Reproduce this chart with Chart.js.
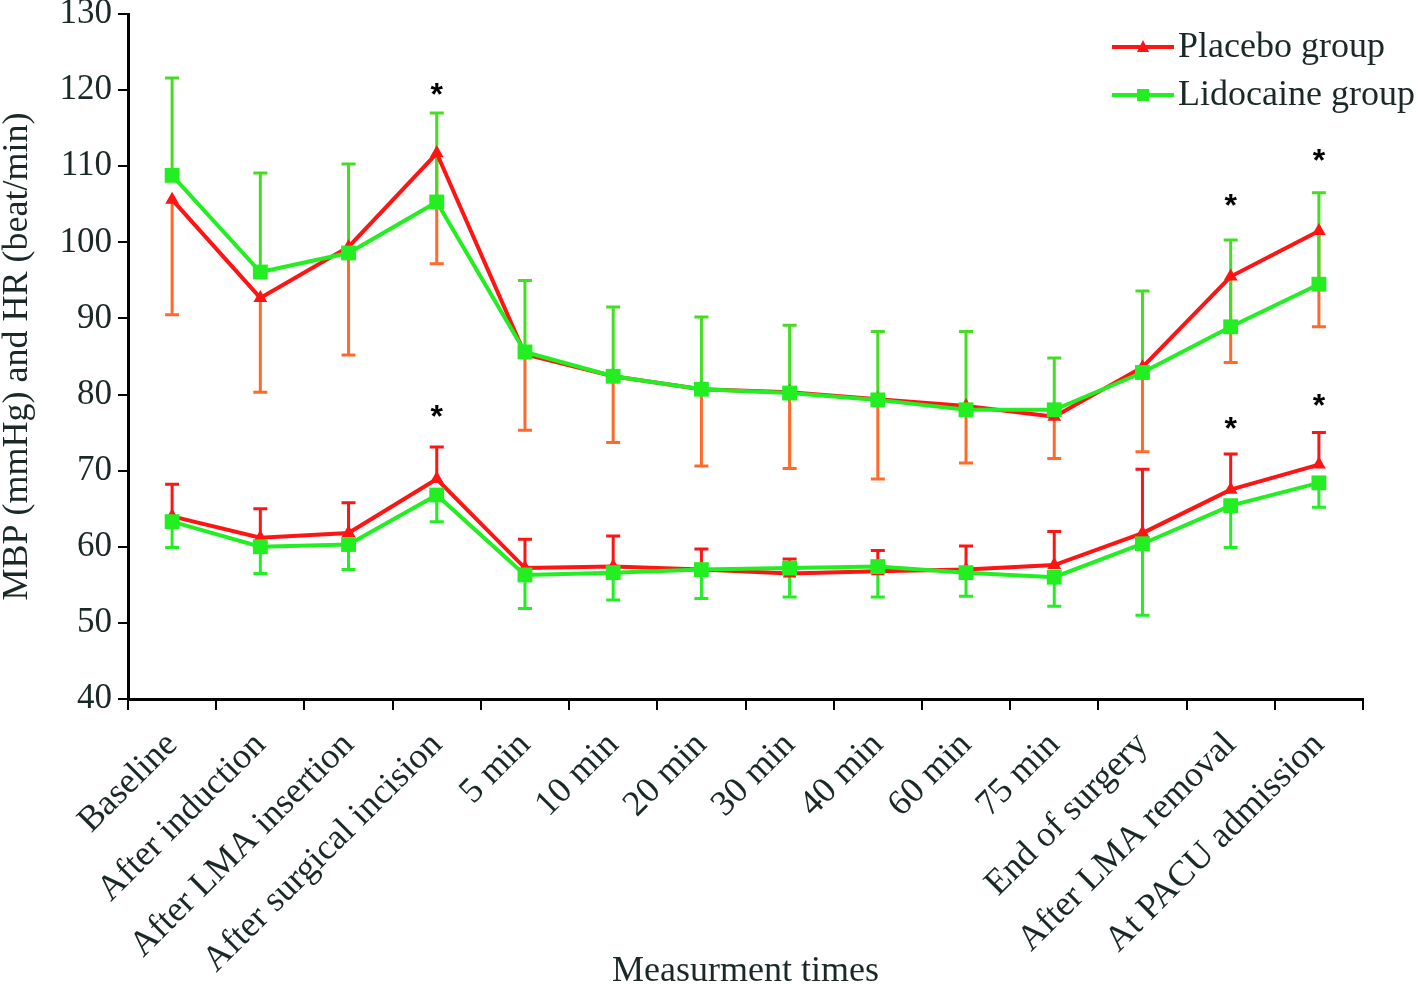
<!DOCTYPE html>
<html>
<head>
<meta charset="utf-8">
<script src="https://cdn.jsdelivr.net/npm/chart.js@4.4.1/dist/chart.umd.min.js"></script>
<style>
  html, body { margin: 0; padding: 0; background: #ffffff; }
  #wrap { width: 1418px; height: 990px; }
</style>
</head>
<body>
<div id="wrap"><canvas id="c" width="1418" height="990"></canvas></div>
<script>
// ---- Data ----
const categories = ['Baseline', 'After induction', 'After LMA insertion', 'After surgical incision',
  '5 min', '10 min', '20 min', '30 min', '40 min', '60 min', '75 min',
  'End of surgery', 'After LMA removal', 'At PACU admission'];

const yTicks = [40, 50, 60, 70, 80, 90, 100, 110, 120, 130];

// Upper curves (MBP)
const placeboMBP = [105.6, 92.7, 99.4, 111.7, 85.3, 82.4, 80.7, 80.3, 79.4, 78.5, 77.1, 83.6, 95.5, 101.5];
const lidocaineMBP = [108.8, 96.1, 98.6, 105.3, 85.6, 82.4, 80.7, 80.2, 79.3, 78.0, 78.0, 82.9, 88.9, 94.5];
const placeboMBPErrLow = [90.5, 80.3, 85.2, 97.2, 75.3, 73.7, 70.6, 70.3, 68.9, 71.0, 71.6, 72.5, 84.2, 88.9];
const lidocaineMBPErrHigh = [121.6, 109.1, 110.3, 117.0, 95.0, 91.5, 90.2, 89.1, 88.3, 88.3, 84.8, 93.6, 100.3, 106.5];

// Lower curves (HR)
const placeboHR = [64.0, 61.2, 61.8, 68.9, 57.2, 57.4, 57.0, 56.5, 56.8, 57.0, 57.6, 61.8, 67.5, 70.8];
const lidocaineHR = [63.3, 60.0, 60.3, 66.8, 56.3, 56.6, 57.0, 57.2, 57.4, 56.6, 56.0, 60.4, 65.4, 68.4];
const placeboHRErrHigh = [68.2, 65.0, 65.8, 73.1, 61.0, 61.4, 59.7, 58.4, 59.5, 60.1, 62.0, 70.2, 72.2, 75.0];
const lidocaineHRErrLow = [59.9, 56.5, 57.0, 63.3, 51.9, 53.0, 53.2, 53.4, 53.4, 53.5, 52.2, 51.0, 59.9, 65.2];

// Significance markers (category index, value)
const starCategories = [3, 3, 12, 12, 13, 13];
const starValues = [120.2, 77.8, 105.6, 76.3, 111.5, 79.3];

const legendLabels = ['Placebo group', 'Lidocaine group'];

// ---- Styles ----
const RED = '#ff1414';
const GREEN = '#22ee22';
const ORANGE = '#ff6a2a';
const GREEN_BAR = '#44dd22';
const TEXT = '#1a2828';
const SERIF = "'Liberation Serif', 'Times New Roman', serif";

const errorBars = [
  { dataset: 0, ends: placeboMBPErrLow, color: ORANGE },
  { dataset: 1, ends: lidocaineMBPErrHigh, color: GREEN_BAR },
  { dataset: 2, ends: placeboHRErrHigh, color: RED },
  { dataset: 3, ends: lidocaineHRErrLow, color: GREEN }
];

const errorBarPlugin = {
  id: 'errorBars',
  beforeDatasetsDraw(chart) {
    const ctx = chart.ctx;
    const xs = chart.scales.x, ys = chart.scales.y;
    ctx.save();
    errorBars.forEach(eb => {
      const vals = chart.data.datasets[eb.dataset].data;
      ctx.strokeStyle = eb.color;
      ctx.lineWidth = 3;
      vals.forEach((v, i) => {
        const x = xs.getPixelForValue(i);
        const y0 = ys.getPixelForValue(v);
        const y1 = ys.getPixelForValue(eb.ends[i]);
        ctx.beginPath();
        ctx.moveTo(x, y0); ctx.lineTo(x, y1);
        ctx.moveTo(x - 7, y1); ctx.lineTo(x + 7, y1);
        ctx.stroke();
      });
    });
    ctx.restore();
  },
  afterDatasetsDraw(chart) {
    const ctx = chart.ctx;
    const xs = chart.scales.x, ys = chart.scales.y;
    ctx.save();
    ctx.fillStyle = '#000000';
    ctx.font = "bold 32px 'Liberation Sans', Arial, sans-serif";
    ctx.textAlign = 'center';
    ctx.textBaseline = 'alphabetic';
    const m = ctx.measureText('*');
    const half = (m.actualBoundingBoxAscent - m.actualBoundingBoxDescent) / 2;
    starCategories.forEach((c, k) => {
      const x = xs.getPixelForValue(c);
      const y = ys.getPixelForValue(starValues[k]);
      ctx.fillText('*', x, y + half);
    });
    ctx.restore();
  },
  afterDraw(chart) {
    // legend: line with marker and label
    const ctx = chart.ctx;
    ctx.save();
    const rows = [47, 95];
    chart.data.datasets.slice(0, 2).forEach((ds, k) => {
      const y = rows[k];
      ctx.strokeStyle = ds.borderColor;
      ctx.lineWidth = 4;
      ctx.beginPath();
      ctx.moveTo(1112, y); ctx.lineTo(1174, y);
      ctx.stroke();
      ctx.fillStyle = ds.borderColor;
      if (ds.pointStyle === 'triangle') {
        ctx.beginPath();
        ctx.moveTo(1143, y - 7); ctx.lineTo(1149, y + 5); ctx.lineTo(1137, y + 5);
        ctx.closePath(); ctx.fill();
      } else {
        ctx.fillRect(1137, y - 6, 12, 12);
      }
      ctx.fillStyle = TEXT;
      ctx.font = '36px ' + SERIF;
      ctx.textAlign = 'left';
      ctx.textBaseline = 'middle';
      ctx.fillText(legendLabels[k], 1178, y + 1);
    });
    ctx.restore();
  }
};

function lineDataset(label, data, color, style, radius, order) {
  return {
    label, data, order,
    borderColor: color, backgroundColor: color,
    borderWidth: 4, tension: 0,
    pointStyle: style, pointRadius: radius, pointHoverRadius: radius,
    pointBackgroundColor: color, pointBorderColor: color, pointBorderWidth: 0,
    clip: false
  };
}

new Chart(document.getElementById('c'), {
  type: 'line',
  data: {
    labels: categories,
    datasets: [
      lineDataset(legendLabels[0], placeboMBP, RED, 'triangle', 8, 2),
      lineDataset(legendLabels[1], lidocaineMBP, GREEN, 'rect', 10.5, 1),
      lineDataset(legendLabels[0], placeboHR, RED, 'triangle', 8, 2),
      lineDataset(legendLabels[1], lidocaineHR, GREEN, 'rect', 10.5, 1)
    ]
  },
  options: {
    responsive: false,
    animation: false,
    events: [],
    layout: { padding: { top: 14, right: 55, left: 0, bottom: 0 } },
    plugins: { legend: { display: false }, tooltip: { enabled: false } },
    scales: {
      x: {
        type: 'category',
        offset: true,
        grid: { display: true, offset: true, drawOnChartArea: false, drawTicks: true, tickLength: 11, color: '#000', lineWidth: 2 },
        border: { display: true, color: '#000', width: 3 },
        ticks: {
          autoSkip: false, maxRotation: 45, minRotation: 45, padding: 14,
          color: TEXT, font: { family: SERIF, size: 36 }
        },
        title: {
          display: true, text: 'Measurment times', color: TEXT,
          font: { family: SERIF, size: 36, lineHeight: 1 }, padding: { top: 0, bottom: 0 }
        },
        afterFit(scale) { scale.height = 291; scale.paddingLeft = 0; scale.paddingRight = 0; }
      },
      y: {
        min: 40, max: 130,
        afterBuildTicks(scale) { scale.ticks = yTicks.map(v => ({ value: v })); },
        grid: { display: true, drawOnChartArea: false, drawTicks: true, tickLength: 10, color: '#000', lineWidth: 2 },
        border: { display: true, color: '#000', width: 3 },
        ticks: { padding: 6, color: TEXT, font: { family: SERIF, size: 35 } },
        title: {
          display: true, text: 'MBP (mmHg) and HR (beat/min)', color: TEXT,
          font: { family: SERIF, size: 36, lineHeight: 1 }, padding: { top: 0, bottom: 0 }
        },
        afterFit(scale) { scale.width = 128; scale.paddingTop = 0; scale.paddingBottom = 0; }
      }
    }
  },
  plugins: [errorBarPlugin]
});
</script>
</body>
</html>
